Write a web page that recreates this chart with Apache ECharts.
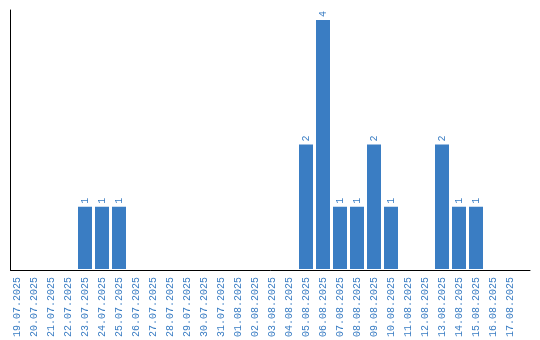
<!DOCTYPE html>
<html>
<head>
<meta charset="utf-8">
<script src="https://cdn.jsdelivr.net/npm/echarts@6/dist/echarts.min.js"></script>
<style>html,body{margin:0;padding:0;background:#fff}#c{width:540px;height:340px}</style>
</head>
<body>
<div id="c"></div>
<script>
var categories = ["19.07.2025","20.07.2025","21.07.2025","22.07.2025","23.07.2025","24.07.2025","25.07.2025","26.07.2025","27.07.2025","28.07.2025","29.07.2025","30.07.2025","31.07.2025","01.08.2025","02.08.2025","03.08.2025","04.08.2025","05.08.2025","06.08.2025","07.08.2025","08.08.2025","09.08.2025","10.08.2025","11.08.2025","12.08.2025","13.08.2025","14.08.2025","15.08.2025","16.08.2025","17.08.2025"];
var counts = [null,null,null,null,1,1,1,null,null,null,null,null,null,null,null,null,null,2,4,1,1,2,1,null,null,2,1,1,null,null];

var blue = '#3a7dc3';
var font = 'Liberation Mono';
var chart = echarts.init(document.getElementById('c'), null, {renderer:'canvas'});
chart.setOption({
  animation: false,
  grid: [
    {left: 8.5, width: 510, top: 20, bottom: 70, containLabel: false},
    {left: 10.5, right: 10, top: 10, bottom: 70, containLabel: false}
  ],
  xAxis: [
    {type:'category', gridIndex:0, data: categories,
     axisLine:{show:false}, axisTick:{show:false},
     axisLabel:{rotate:90, interval:0, color: blue, fontFamily: font, fontSize:10, margin:8}},
    {type:'category', gridIndex:1, data:[''], axisLine:{show:true, lineStyle:{color:'#000', width:1}},
     axisTick:{show:false}, axisLabel:{show:false}}
  ],
  yAxis: [
    {type:'value', gridIndex:0, min:0, max:4, axisLine:{show:false}, axisTick:{show:false},
     axisLabel:{show:false}, splitLine:{show:false}},
    {type:'value', gridIndex:1, min:0, max:1, axisLine:{show:true, lineStyle:{color:'#000', width:1}},
     axisTick:{show:false}, axisLabel:{show:false}, splitLine:{show:false}}
  ],
  series: [{
    type:'bar', xAxisIndex:0, yAxisIndex:0, data: counts, barWidth:14,
    itemStyle:{color: blue},
    label:{show:true, position:'top', rotate:90, align:'left', verticalAlign:'middle', distance:3,
      color: blue, fontFamily: font, fontSize:10}
  }]
});
</script>
</body>
</html>
